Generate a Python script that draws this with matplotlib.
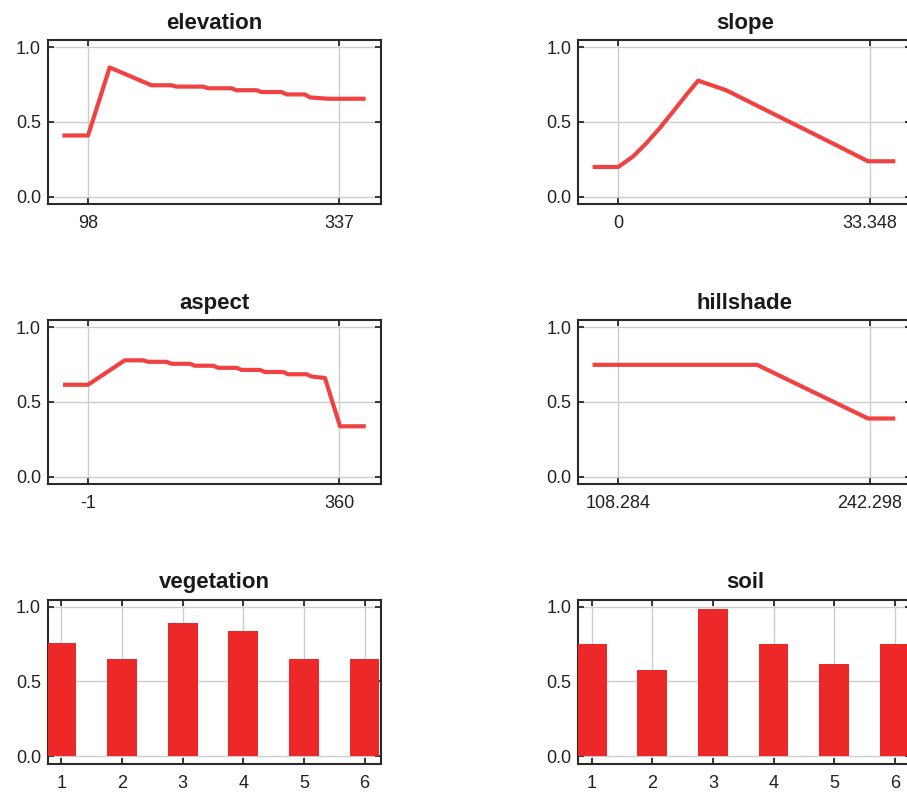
"""Partial dependence style panels: elevation, slope, aspect, hillshade, vegetation, soil"""

import matplotlib
matplotlib.use("Agg")
import matplotlib.pyplot as plt

# ---- data ----
elev_x = [73.6, 98, 118.6, 158.3, 177.4, 182.1, 207.5, 212.3, 234.5, 239.2,
          258.3, 263.0, 282.1, 286.9, 304.3, 309.1, 326.5, 362.1]
elev_y = [0.41, 0.41, 0.864, 0.745, 0.745, 0.736, 0.736, 0.725, 0.725, 0.712,
          0.712, 0.7, 0.7, 0.684, 0.684, 0.664, 0.655, 0.655]
elev_ticks = [98, 337]
elev_labels = ["98", "337"]

slope_x = [-3.4, 0, 1.99, 3.75, 5.52, 7.29, 9.05, 10.6, 14.36, 17.89,
           23.19, 28.49, 33.13, 36.75]
slope_y = [0.2, 0.2, 0.271, 0.36, 0.46, 0.571, 0.682, 0.776, 0.711, 0.622,
           0.489, 0.356, 0.238, 0.238]
slope_ticks = [0, 33.348]
slope_labels = ["0", "33.348"]

aspect_x = [-37, -1, 51.7, 78.1, 85.3, 111.7, 118.9, 145.2, 152.4, 178.8,
            186.0, 212.3, 219.5, 245.9, 253.1, 279.5, 286.6, 313.0, 320.2,
            339.4, 361, 398]
aspect_y = [0.615, 0.615, 0.778, 0.778, 0.768, 0.768, 0.755, 0.755, 0.742,
            0.742, 0.728, 0.728, 0.714, 0.714, 0.7, 0.7, 0.685, 0.685,
            0.67, 0.66, 0.338, 0.338]
aspect_ticks = [-1, 360]
aspect_labels = ["-1", "360"]

hill_x = [94.6, 108.284, 182.3, 241.4, 255.96]
hill_y = [0.748, 0.748, 0.748, 0.39, 0.39]
hill_ticks = [108.284, 242.298]
hill_labels = ["108.284", "242.298"]

veg_cats = [1, 2, 3, 4, 5, 6]
veg_vals = [0.755, 0.652, 0.893, 0.837, 0.652, 0.652]

soil_cats = [1, 2, 3, 4, 5, 6]
soil_vals = [0.753, 0.578, 0.982, 0.753, 0.62, 0.753]

LINE_RED = "#F04242"
BAR_RED = "#EC2828"
SPINE = "#2a2a2a"
GRID = "#cccccc"

plt.rcParams["font.family"] = ["Liberation Sans", "DejaVu Sans"]

fig = plt.figure(figsize=(9.07, 7.96), dpi=100)

W, H = 907.0, 796.0
col_left = [48, 578.3]
row_bottom = [204, 484, 763.5]
ax_w, ax_h = 333, 164


def make_axes(col, row):
    ax = fig.add_axes([col_left[col] / W, 1 - row_bottom[row] / H,
                       ax_w / W, ax_h / H])
    ax.set_ylim(-0.047, 1.047)
    ax.set_yticks([0.0, 0.5, 1.0])
    ax.set_yticklabels(["0.0", "0.5", "1.0"])
    ax.grid(True, color=GRID, linewidth=1.0)
    ax.set_axisbelow(True)
    for sp in ax.spines.values():
        sp.set_color(SPINE)
        sp.set_linewidth(1.5)
    ax.tick_params(direction="in", top=True, right=True, length=4.5,
                   width=1.3, color=SPINE, labelsize=13, labelcolor="#222222")
    ax.tick_params(axis="x", pad=8)
    ax.tick_params(axis="y", pad=5)
    return ax


def line_panel(col, row, x, y, ticks, labels, xlim, title):
    ax = make_axes(col, row)
    ax.plot(x, y, color=LINE_RED, linewidth=3.0, solid_joinstyle="round",
            solid_capstyle="butt", zorder=3)
    ax.set_xlim(*xlim)
    ax.set_xticks(ticks)
    ax.set_xticklabels(labels)
    ax.set_title(title, fontsize=16, fontweight="bold", pad=8, color="#1a1a1a")
    return ax


def bar_panel(col, row, cats, vals, xlim, title):
    ax = make_axes(col, row)
    ax.bar(cats, vals, width=0.49, color=BAR_RED, zorder=3)
    ax.set_xlim(*xlim)
    ax.set_xticks(cats)
    ax.set_xticklabels([str(c) for c in cats])
    ax.set_title(title, fontsize=16, fontweight="bold", pad=8, color="#1a1a1a")
    return ax


line_panel(0, 0, elev_x, elev_y, elev_ticks, elev_labels, (59.9, 376.7),
           "elevation")
line_panel(1, 0, slope_x, slope_y, slope_ticks, slope_labels, (-5.3, 38.87),
           "slope")
line_panel(0, 1, aspect_x, aspect_y, aspect_ticks, aspect_labels,
           (-58.5, 419.9), "aspect")
line_panel(1, 1, hill_x, hill_y, hill_ticks, hill_labels, (86.98, 264.5),
           "hillshade")
bar_panel(0, 2, veg_cats, veg_vals, (0.78, 6.27), "vegetation")
bar_panel(1, 2, soil_cats, soil_vals, (0.78, 6.27), "soil")

fig.savefig("out.png", dpi=100)
